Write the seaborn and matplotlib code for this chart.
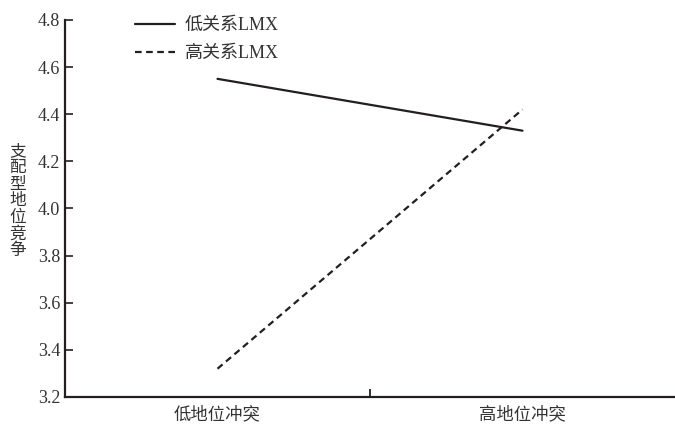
import matplotlib
matplotlib.use('Agg')
import matplotlib.pyplot as plt
import pandas as pd
import seaborn as sns

conditions = ['低地位冲突', '高地位冲突']
groups = ['低关系LMX', '高关系LMX']
low_lmx = [4.55, 4.33]
high_lmx = [3.32, 4.42]
y_label = '支配型地位竞争'

df = pd.DataFrame({
    'pos': [0, 1, 0, 1],
    'value': low_lmx + high_lmx,
    'group': [groups[0]] * 2 + [groups[1]] * 2,
})

sns.set_style('ticks')
plt.rcParams['font.family'] = ['Liberation Serif', 'Noto Sans CJK SC']
ink = '#231f20'

fig = plt.figure(figsize=(6.75, 4.24), dpi=100)
ax = fig.add_axes([0.0963, 0.0637, 0.9037, 0.8893])

sns.lineplot(data=df, x='pos', y='value', style='group', style_order=groups,
             dashes={groups[0]: '', groups[1]: (3, 2)}, color=ink, linewidth=1.6,
             markers=False, ax=ax)

ax.set_xlim(-0.5, 1.5)
ax.set_ylim(3.2, 4.8)
ax.set_yticks([3.2, 3.4, 3.6, 3.8, 4.0, 4.2, 4.4, 4.6, 4.8])
ax.set_yticklabels([f'{v:.1f}' for v in ax.get_yticks()], fontsize=13)
ax.set_xticks([0.5])
ax.set_xticklabels([''])
ax.set_xticks([0, 1], minor=True)
ax.set_xticklabels(conditions, minor=True, fontsize=12.5, color='#333333')
ax.tick_params(axis='x', which='minor', length=0, pad=7)
ax.tick_params(axis='both', which='major', direction='in', length=6, width=1.3, color=ink)
ax.tick_params(axis='y', colors='#333333')
ax.set_xlabel('')
ax.set_ylabel('')
sns.despine(ax=ax)
for s in ['left', 'bottom']:
    ax.spines[s].set_linewidth(1.6)
    ax.spines[s].set_color(ink)

fig.text(0.026, 0.525, '\n'.join(y_label), ha='center', va='center', fontsize=12,
         color='#333333', linespacing=1.05)

leg = ax.legend(loc='upper left', bbox_to_anchor=(0.088, 1.05), frameon=False,
                fontsize=13, handlelength=2.2, handletextpad=0.55, labelspacing=0.6)
for t in leg.get_texts():
    t.set_color('#333333')

fig.savefig('out.png', dpi=100)
